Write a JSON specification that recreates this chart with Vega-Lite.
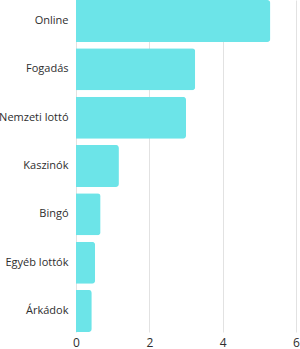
{
  "$schema": "https://vega.github.io/schema/vega-lite/v6.json",
  "autosize": "none",
  "width": 220,
  "height": 332,
  "padding": {"left": 76, "top": 0, "right": 4, "bottom": 17},
  "background": "white",
  "data": {"values": [
    {"kategoria": "Online", "ertek": 5.3},
    {"kategoria": "Fogadás", "ertek": 3.25},
    {"kategoria": "Nemzeti lottó", "ertek": 3.0},
    {"kategoria": "Kaszinók", "ertek": 1.17},
    {"kategoria": "Bingó", "ertek": 0.67},
    {"kategoria": "Egyéb lottók", "ertek": 0.52},
    {"kategoria": "Árkádok", "ertek": 0.43}
  ]},
  "mark": {"type": "bar", "color": "#6ce4e8", "cornerRadiusEnd": 3},
  "encoding": {
    "y": {"field": "kategoria", "type": "nominal", "sort": null, "title": null,
      "scale": {"paddingInner": 0.13, "paddingOuter": 0},
      "axis": {"domain": false, "ticks": false, "labelPadding": 8, "labelFont": "Open Sans", "labelFontSize": 11, "labelColor": "#2e2e2e"}},
    "x": {"field": "ertek", "type": "quantitative", "title": null,
      "scale": {"domain": [0, 6], "nice": false},
      "axis": {"values": [0, 2, 4, 6], "domain": false, "ticks": false, "labelPadding": 5, "labelFont": "Open Sans", "labelFontSize": 12, "labelColor": "#2e2e2e", "gridColor": "#e2e2e2", "labelFlush": false}}
  },
  "config": {"view": {"stroke": null}}
}
